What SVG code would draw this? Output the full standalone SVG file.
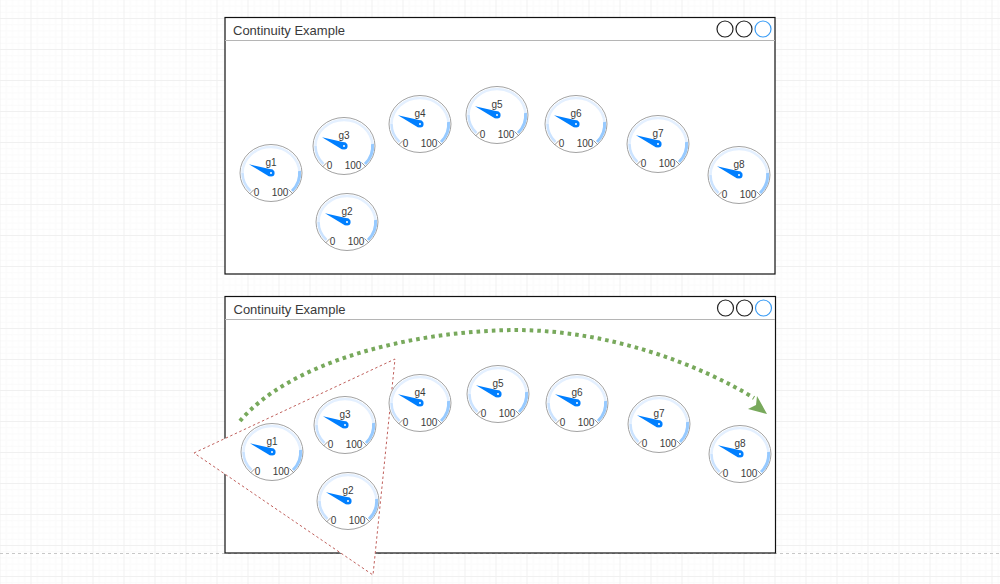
<svg xmlns="http://www.w3.org/2000/svg" width="1000" height="584" viewBox="0 0 1000 584">
<style>
text{font-family:"Liberation Sans",Arial,sans-serif;fill:#3a3a3a}
.gt{font-size:10px;text-anchor:middle}
.title{font-size:13px}
.win{fill:#fff;stroke:#111;stroke-width:1.2}
.bar{stroke:#b5b5b5;stroke-width:1;fill:none}
.btn{fill:none;stroke:#222;stroke-width:1.2}
.btnb{fill:none;stroke:#3c9df5;stroke-width:1.2}
</style>
<defs>
<pattern id="grid" x="-0.5" y="18" width="31" height="31" patternUnits="userSpaceOnUse">
<path d="M6.7 0V31M12.9 0V31M19.1 0V31M25.3 0V31M0 6.7H31M0 12.9H31M0 19.1H31M0 25.3H31" stroke="#fafafa" stroke-width="1" fill="none"/>
<path d="M0.5 0V31M0 0.5H31" stroke="#f0f0f0" stroke-width="1" fill="none"/>
</pattern>
<g id="gauge">
<ellipse rx="31" ry="28.5" fill="#fff" stroke="#a3a3a3" stroke-width="1"/>
<path d="M-28.5 0A28.5 26 0 0 1 28.5 0" fill="none" stroke="#e4f0ff" stroke-width="2.6"/>
<path d="M-20.5 18A28.5 26 0 0 1 -28.5 0" fill="none" stroke="#cbe3ff" stroke-width="2.6"/>
<path d="M28.5 -2A28.5 26 0 0 1 21 18" fill="none" stroke="#97caff" stroke-width="3"/>
<path d="M-17 16.5L-21.5 21M17.5 16.5L22 21" stroke="#8a8a8a" stroke-width="0.9" fill="none"/>
<path d="M-22 -8.7L2 -3.3L-1.8 3.4Z" fill="#007fff"/>
<circle r="3.6" fill="#007fff"/>
<circle r="1" fill="#fff"/>
</g>
</defs>
<rect width="1000" height="584" fill="#fff"/>
<rect width="1000" height="584" fill="url(#grid)"/>
<path d="M0 553.5H1000" stroke="#c8c8c8" stroke-width="1" stroke-dasharray="3 3" fill="none"/>

<g id="window-top">
<rect class="win" x="225" y="17.5" width="550" height="256.5"/>
<path class="bar" d="M225 40.5H775"/>
<text class="title" x="233" y="35">Continuity Example</text>
<circle class="btn" cx="725" cy="29" r="8"/><circle class="btn" cx="744" cy="29" r="8"/><circle class="btnb" cx="763" cy="29" r="8"/>
</g>
<g id="t-g1" transform="translate(271,173)"><use href="#gauge"/><text class="gt" y="-7.5">g1</text><text class="gt" x="-14.5" y="23">0</text><text class="gt" x="9" y="23">100</text></g>
<g id="t-g2" transform="translate(347,222)"><use href="#gauge"/><text class="gt" y="-7.5">g2</text><text class="gt" x="-14.5" y="23">0</text><text class="gt" x="9" y="23">100</text></g>
<g id="t-g3" transform="translate(344,146)"><use href="#gauge"/><text class="gt" y="-7.5">g3</text><text class="gt" x="-14.5" y="23">0</text><text class="gt" x="9" y="23">100</text></g>
<g id="t-g4" transform="translate(420,124)"><use href="#gauge"/><text class="gt" y="-7.5">g4</text><text class="gt" x="-14.5" y="23">0</text><text class="gt" x="9" y="23">100</text></g>
<g id="t-g5" transform="translate(497,115)"><use href="#gauge"/><text class="gt" y="-7.5">g5</text><text class="gt" x="-14.5" y="23">0</text><text class="gt" x="9" y="23">100</text></g>
<g id="t-g6" transform="translate(576,124)"><use href="#gauge"/><text class="gt" y="-7.5">g6</text><text class="gt" x="-14.5" y="23">0</text><text class="gt" x="9" y="23">100</text></g>
<g id="t-g7" transform="translate(658,144)"><use href="#gauge"/><text class="gt" y="-7.5">g7</text><text class="gt" x="-14.5" y="23">0</text><text class="gt" x="9" y="23">100</text></g>
<g id="t-g8" transform="translate(739,175)"><use href="#gauge"/><text class="gt" y="-7.5">g8</text><text class="gt" x="-14.5" y="23">0</text><text class="gt" x="9" y="23">100</text></g>

<g id="window-bottom">
<rect class="win" x="225" y="296.5" width="550.5" height="256.5"/>
<path class="bar" d="M225 319.5H775"/>
<text class="title" x="233.5" y="314">Continuity Example</text>
<circle class="btn" cx="725.5" cy="308" r="8"/><circle class="btn" cx="744.5" cy="308" r="8"/><circle class="btnb" cx="763.5" cy="308" r="8"/>
</g>
<g id="selection-triangle"><path d="M194 453L395 359L373 575Z" fill="#fff" stroke="#c0605c" stroke-width="1" stroke-dasharray="2.5 2.5"/></g>
<g id="b-g1" transform="translate(272,452)"><use href="#gauge"/><text class="gt" y="-7.5">g1</text><text class="gt" x="-14.5" y="23">0</text><text class="gt" x="9" y="23">100</text></g>
<g id="b-g2" transform="translate(348,501)"><use href="#gauge"/><text class="gt" y="-7.5">g2</text><text class="gt" x="-14.5" y="23">0</text><text class="gt" x="9" y="23">100</text></g>
<g id="b-g3" transform="translate(345,425)"><use href="#gauge"/><text class="gt" y="-7.5">g3</text><text class="gt" x="-14.5" y="23">0</text><text class="gt" x="9" y="23">100</text></g>
<g id="b-g4" transform="translate(420,403)"><use href="#gauge"/><text class="gt" y="-7.5">g4</text><text class="gt" x="-14.5" y="23">0</text><text class="gt" x="9" y="23">100</text></g>
<g id="b-g5" transform="translate(498,394)"><use href="#gauge"/><text class="gt" y="-7.5">g5</text><text class="gt" x="-14.5" y="23">0</text><text class="gt" x="9" y="23">100</text></g>
<g id="b-g6" transform="translate(577,403)"><use href="#gauge"/><text class="gt" y="-7.5">g6</text><text class="gt" x="-14.5" y="23">0</text><text class="gt" x="9" y="23">100</text></g>
<g id="b-g7" transform="translate(659,424)"><use href="#gauge"/><text class="gt" y="-7.5">g7</text><text class="gt" x="-14.5" y="23">0</text><text class="gt" x="9" y="23">100</text></g>
<g id="b-g8" transform="translate(740,454)"><use href="#gauge"/><text class="gt" y="-7.5">g8</text><text class="gt" x="-14.5" y="23">0</text><text class="gt" x="9" y="23">100</text></g>

<g id="connectors">
<path d="M240 421C290 362 410 331 515 330C610 330 700 365 754 398" fill="none" stroke="#78a95c" stroke-width="4" stroke-dasharray="3.6 4"/>
<path d="M767 414L757 396L756 405L748 409Z" fill="#78a95c"/>
</g>
</svg>
